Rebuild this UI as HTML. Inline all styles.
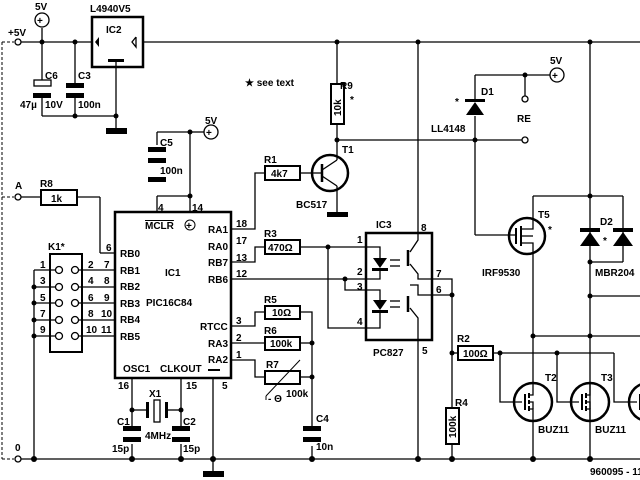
<!DOCTYPE html>
<html><head><meta charset="utf-8"><style>
html,body{margin:0;padding:0;background:#fff;width:640px;height:480px;overflow:hidden}
svg{display:block}
text{font-family:"Liberation Sans",sans-serif;font-weight:bold;font-size:10px;fill:#000}
</style></head><body>
<svg width="640" height="480" viewBox="0 0 640 480" xmlns="http://www.w3.org/2000/svg">
<defs>
<g id="nmos" stroke="#000" fill="none" stroke-width="1.3">
<line x1="-8" y1="-8" x2="-8" y2="8" stroke-width="2"/>
<line x1="-4" y1="-9" x2="-4" y2="-4" stroke-width="2"/>
<line x1="-4" y1="-2" x2="-4" y2="2" stroke-width="2"/>
<line x1="-4" y1="4" x2="-4" y2="9" stroke-width="2"/>
<polyline points="-4,-7 0,-7 0,-19"/>
<polyline points="-4,7 0,7 0,19"/>
<polyline points="-4,0 0,0 0,7"/>
</g>
</defs>
<g stroke="#000" stroke-width="1.3" fill="none">
<line x1="2" y1="42" x2="2" y2="459" stroke-dasharray="3,2" stroke-width="1"/>
<line x1="2" y1="42" x2="14" y2="42" stroke-dasharray="3,2" stroke-width="1"/>
<line x1="2" y1="197" x2="14" y2="197" stroke-dasharray="3,2" stroke-width="1"/>
<line x1="2" y1="459" x2="14" y2="459" stroke-dasharray="3,2" stroke-width="1"/>
<line x1="21" y1="42" x2="92" y2="42"/>
<line x1="143" y1="42" x2="640" y2="42"/>
<rect x="92" y="17" width="51" height="50" stroke-width="2.5"/>
<line x1="42" y1="28" x2="42" y2="80"/>
<circle cx="42" cy="20" r="7"/>
<line x1="75" y1="42" x2="75" y2="85"/>
<line x1="42" y1="97" x2="42" y2="116"/><line x1="75" y1="97" x2="75" y2="116"/>
<line x1="42" y1="116" x2="116" y2="116"/>
<line x1="116" y1="62" x2="116" y2="128"/>
<rect x="34" y="80" width="17" height="6" stroke-width="1.3"/>
<path d="M136,37 L132,42 L136,47 L136,37" stroke-width="1.3"/>
<line x1="337" y1="42" x2="337" y2="84"/>
<rect x="331" y="84" width="13" height="40" stroke-width="2"/>
<line x1="337" y1="124" x2="337" y2="160"/>
<line x1="337" y1="140" x2="522" y2="140"/>
<circle cx="330" cy="173" r="18" stroke-width="2.5"/>
<line x1="337" y1="186" x2="337" y2="212"/>
<line x1="314" y1="173" x2="300" y2="173"/>
<line x1="322" y1="164" x2="322" y2="182" stroke-width="2.5"/>
<polyline points="322,170 337,160"/><polyline points="322,176 337,186"/>
<line x1="314" y1="173" x2="322" y2="173"/>
<line x1="475" y1="75" x2="475" y2="100"/>
<line x1="475" y1="116" x2="475" y2="235"/>
<line x1="475" y1="75" x2="550" y2="75"/>
<line x1="525" y1="75" x2="525" y2="96"/>
<circle cx="557" cy="75" r="7"/>
<line x1="475" y1="235" x2="516" y2="235"/>
<line x1="418" y1="42" x2="418" y2="233"/>
<line x1="590" y1="42" x2="590" y2="459"/>
<line x1="533" y1="196" x2="623" y2="196"/>
<line x1="533" y1="196" x2="533" y2="220"/>
<line x1="623" y1="196" x2="623" y2="262"/>
<line x1="590" y1="262" x2="623" y2="262"/>
<line x1="590" y1="296" x2="640" y2="296"/>
<line x1="533" y1="254" x2="533" y2="383"/>
<line x1="533" y1="421" x2="533" y2="459"/>
<line x1="533" y1="336" x2="640" y2="336"/>
<circle cx="527" cy="236" r="18" stroke-width="2.5"/>
<rect x="115" y="212" width="116" height="166" stroke-width="2.5"/>
<line x1="190" y1="132" x2="204" y2="132"/>
<circle cx="211" cy="132" r="7"/>
<line x1="157" y1="132" x2="190" y2="132"/>
<line x1="157" y1="132" x2="157" y2="145"/>
<line x1="190" y1="132" x2="190" y2="212"/>
<line x1="157" y1="196" x2="190" y2="196"/>
<line x1="157" y1="196" x2="157" y2="212"/>
<circle cx="190" cy="225" r="5" stroke-width="1"/>
<line x1="21" y1="197" x2="41" y2="197"/>
<rect x="41" y="190" width="36" height="15" stroke-width="2"/>
<line x1="77" y1="197" x2="100" y2="197"/>
<line x1="100" y1="197" x2="100" y2="253"/>
<line x1="100" y1="253" x2="115" y2="253"/>
<rect x="50" y="254" width="32" height="98" stroke-width="2"/>
<line x1="34" y1="270" x2="34" y2="459"/>
<line x1="34" y1="270" x2="55" y2="270"/><line x1="79" y1="270" x2="115" y2="270"/>
<line x1="34" y1="287" x2="55" y2="287"/><line x1="79" y1="287" x2="115" y2="287"/>
<line x1="34" y1="303" x2="55" y2="303"/><line x1="79" y1="303" x2="115" y2="303"/>
<line x1="34" y1="320" x2="55" y2="320"/><line x1="79" y1="320" x2="115" y2="320"/>
<line x1="34" y1="336" x2="55" y2="336"/><line x1="79" y1="336" x2="115" y2="336"/>
<g fill="#fff">
<circle cx="59" cy="270" r="3.5"/><circle cx="75" cy="270" r="3.5"/>
<circle cx="59" cy="287" r="3.5"/><circle cx="75" cy="287" r="3.5"/>
<circle cx="59" cy="303" r="3.5"/><circle cx="75" cy="303" r="3.5"/>
<circle cx="59" cy="320" r="3.5"/><circle cx="75" cy="320" r="3.5"/>
<circle cx="59" cy="336" r="3.5"/><circle cx="75" cy="336" r="3.5"/>
</g>
<polyline points="231,229 255,229 255,173 265,173"/>
<rect x="265" y="166" width="35" height="14" stroke-width="2"/>
<polyline points="231,262 255,262 255,247 265,247"/>
<rect x="265" y="240" width="35" height="14" stroke-width="2"/>
<line x1="300" y1="247" x2="366" y2="247"/>
<polyline points="328,247 328,328 366,328"/>
<line x1="231" y1="279" x2="366" y2="279"/>
<polyline points="345,279 345,290 366,290"/>
<polyline points="231,326 255,326 255,312 265,312"/>
<rect x="265" y="306" width="35" height="13" stroke-width="2"/>
<polyline points="300,312 312,312 312,426"/>
<line x1="231" y1="343" x2="265" y2="343"/>
<rect x="265" y="337" width="35" height="13" stroke-width="2"/>
<line x1="300" y1="343" x2="312" y2="343"/>
<polyline points="231,360 255,360 255,377 265,377"/>
<rect x="265" y="371" width="35" height="13" stroke-width="2"/>
<line x1="300" y1="377" x2="312" y2="377"/>
<line x1="266" y1="396" x2="300" y2="360" stroke-width="1"/>
<line x1="266" y1="396" x2="266" y2="400" stroke-width="1"/>
<line x1="312" y1="446" x2="312" y2="459"/>
<line x1="132" y1="378" x2="132" y2="426"/>
<line x1="181" y1="378" x2="181" y2="426"/>
<line x1="132" y1="410" x2="146" y2="410"/><line x1="168" y1="410" x2="181" y2="410"/>
<rect x="154" y="400" width="6" height="22" stroke-width="1.3"/>
<line x1="132" y1="444" x2="132" y2="459"/><line x1="181" y1="444" x2="181" y2="459"/>
<line x1="213" y1="378" x2="213" y2="471"/>
<line x1="21" y1="459" x2="640" y2="459"/>
<rect x="366" y="233" width="66" height="107" stroke-width="2.5"/>
<polyline points="432,279 452,279 452,408"/>
<line x1="432" y1="295" x2="452" y2="295"/>
<line x1="418" y1="340" x2="418" y2="459"/>
<line x1="452" y1="444" x2="452" y2="459"/>
<rect x="446" y="408" width="13" height="36" stroke-width="2"/>
<line x1="452" y1="353" x2="458" y2="353"/>
<rect x="458" y="346" width="35" height="14" stroke-width="2"/>
<line x1="493" y1="353" x2="614" y2="353"/>
<polyline points="500,353 500,402 522,402"/>
<polyline points="557,353 557,402 579,402"/>
<polyline points="614,353 614,402 637,402"/>
<circle cx="533" cy="402" r="19" stroke-width="2.5"/>
<circle cx="590" cy="402" r="19" stroke-width="2.5"/>
<circle cx="648" cy="402" r="19" stroke-width="2.5"/>
<polyline points="366,247 380,247 380,258"/><polyline points="380,270 380,279 366,279"/>
<polyline points="366,290 380,290 380,300"/><polyline points="380,313 380,328 366,328"/>
<polyline points="418,233 418,240 410,252"/><polyline points="410,264 418,274 418,279 432,279"/>
<polyline points="410,285 418,285 418,295 432,295" /><polyline points="410,308 418,318 418,340"/>
<line x1="408" y1="250" x2="408" y2="266" stroke-width="2.5"/>
<line x1="408" y1="296" x2="408" y2="312" stroke-width="2.5"/>
<line x1="390" y1="260" x2="400" y2="260"/><line x1="390" y1="266" x2="400" y2="266"/>
<line x1="390" y1="301" x2="400" y2="301"/><line x1="390" y1="307" x2="400" y2="307"/>
<circle cx="18" cy="42" r="3"/><circle cx="18" cy="197" r="3"/><circle cx="18" cy="459" r="3"/>
<circle cx="525" cy="99" r="3"/><circle cx="525" cy="140" r="3"/>
</g>
<use href="#nmos" x="533" y="402"/>
<use href="#nmos" x="590" y="402"/>
<use href="#nmos" x="648" y="402"/>
<g stroke="#000" fill="none" stroke-width="1.3">
<line x1="516" y1="228" x2="516" y2="244" stroke-width="2"/>
<line x1="521" y1="226" x2="521" y2="246" stroke-width="2"/>
<polyline points="521,229 533,229 533,218"/><polyline points="521,243 533,243 533,254"/>
<line x1="521" y1="236" x2="533" y2="236"/>
</g>
<g fill="#000" stroke="none">
<path d="M99,37 L95,42 L99,47 Z"/>
<rect x="33" y="93" width="18" height="5"/>
<rect x="66" y="83" width="18" height="5"/><rect x="66" y="93" width="18" height="5"/>
<rect x="148" y="147" width="18" height="5"/><rect x="148" y="158" width="18" height="5"/><rect x="148" y="177" width="18" height="5"/>
<rect x="123" y="426" width="18" height="5"/><rect x="123" y="437" width="18" height="5"/>
<rect x="172" y="426" width="18" height="5"/><rect x="172" y="437" width="18" height="5"/>
<rect x="303" y="426" width="18" height="5"/><rect x="303" y="437" width="18" height="5"/>
<rect x="146" y="402" width="3" height="16"/><rect x="165" y="402" width="3" height="16"/>
<rect x="106" y="128" width="21" height="6"/>
<rect x="327" y="212" width="21" height="5"/>
<rect x="203" y="471" width="21" height="6"/>
<rect x="108" y="59" width="16" height="3"/>
<rect x="208" y="369" width="12" height="2"/>
<rect x="465" y="99" width="20" height="3"/><polygon points="466,115 484,115 475,102"/>
<rect x="580" y="228" width="20" height="4"/><polygon points="580,246 600,246 590,232"/>
<rect x="613" y="228" width="20" height="4"/><polygon points="613,246 633,246 623,232"/>
<polygon points="373,258 387,258 380,268"/><rect x="372" y="268" width="16" height="3"/>
<polygon points="373,300 387,300 380,310"/><rect x="372" y="310" width="16" height="3"/>
<circle cx="42" cy="42" r="2.5"/><circle cx="75" cy="42" r="2.5"/><circle cx="75" cy="116" r="2.5"/><circle cx="116" cy="116" r="2.5"/>
<circle cx="337" cy="42" r="2.5"/><circle cx="418" cy="42" r="2.5"/><circle cx="590" cy="42" r="2.5"/>
<circle cx="337" cy="140" r="2.5"/><circle cx="475" cy="140" r="2.5"/><circle cx="525" cy="75" r="2.5"/>
<circle cx="190" cy="132" r="2.5"/><circle cx="190" cy="196" r="2.5"/>
<circle cx="34" cy="287" r="2.5"/><circle cx="34" cy="303" r="2.5"/><circle cx="34" cy="320" r="2.5"/><circle cx="34" cy="336" r="2.5"/>
<circle cx="328" cy="247" r="2.5"/><circle cx="345" cy="279" r="2.5"/><circle cx="452" cy="295" r="2.5"/><circle cx="452" cy="353" r="2.5"/>
<circle cx="500" cy="353" r="2.5"/><circle cx="557" cy="353" r="2.5"/>
<circle cx="312" cy="343" r="2.5"/><circle cx="312" cy="377" r="2.5"/>
<circle cx="132" cy="410" r="2.5"/><circle cx="181" cy="410" r="2.5"/>
<circle cx="590" cy="196" r="2.5"/><circle cx="590" cy="262" r="2.5"/><circle cx="590" cy="296" r="2.5"/>
<circle cx="533" cy="336" r="2.5"/><circle cx="590" cy="336" r="2.5"/>
<circle cx="34" cy="459" r="3"/><circle cx="132" cy="459" r="3"/><circle cx="181" cy="459" r="3"/><circle cx="213" cy="459" r="3"/>
<circle cx="312" cy="459" r="3"/><circle cx="418" cy="459" r="3"/><circle cx="452" cy="459" r="3"/><circle cx="533" cy="459" r="3"/><circle cx="590" cy="459" r="3"/>
</g>
<g font-size="12">
<text x="37" y="24">+</text><text x="206" y="136">+</text><text x="552" y="79">+</text><text x="186" y="229" font-size="9">+</text>
</g>
<text x="35" y="10" font-size="11">5V</text>
<text x="8" y="36">+5V</text>
<text x="90" y="12" font-size="11">L4940V5</text>
<text x="106" y="33" font-size="11">IC2</text>
<text x="45" y="79">C6</text><text x="78" y="79">C3</text>
<text x="20" y="108">47µ</text><text x="45" y="108">10V</text><text x="78" y="108">100n</text>
<text x="245" y="86" font-size="9">★ see text</text>
<text x="205" y="124" font-size="11">5V</text>
<text x="160" y="146">C5</text><text x="160" y="174">100n</text>
<text x="15" y="189">A</text><text x="40" y="187">R8</text><text x="51" y="202">1k</text>
<text x="158" y="211">4</text><text x="192" y="211">14</text>
<text x="145" y="229" text-decoration="overline">MCLR</text>
<text x="208" y="233">RA1</text>
<text x="236" y="227">18</text><text x="236" y="244">17</text><text x="236" y="261">13</text><text x="236" y="277">12</text>
<text x="236" y="324">3</text><text x="236" y="341">2</text><text x="236" y="358">1</text>
<text x="208" y="250">RA0</text><text x="208" y="266">RB7</text><text x="208" y="283">RB6</text>
<text x="200" y="330">RTCC</text><text x="208" y="347">RA3</text><text x="208" y="363">RA2</text>
<text x="120" y="257">RB0</text><text x="120" y="274">RB1</text><text x="120" y="290">RB2</text><text x="120" y="307">RB3</text><text x="120" y="323">RB4</text><text x="120" y="340">RB5</text>
<text x="165" y="276" font-size="11">IC1</text>
<text x="146" y="306" font-size="11">PIC16C84</text>
<text x="123" y="372">OSC1</text><text x="160" y="372">CLKOUT</text>
<text x="118" y="389">16</text><text x="186" y="389">15</text><text x="222" y="389">5</text>
<text x="149" y="397">X1</text><text x="145" y="439">4MHz</text>
<text x="117" y="425">C1</text><text x="183" y="425">C2</text><text x="112" y="452">15p</text><text x="183" y="452">15p</text>
<text x="48" y="250" font-size="11">K1*</text>
<text x="106" y="251">6</text>
<text x="40" y="268">1</text><text x="40" y="284">3</text><text x="40" y="301">5</text><text x="40" y="317">7</text><text x="40" y="333">9</text>
<text x="88" y="268">2</text><text x="88" y="284">4</text><text x="88" y="301">6</text><text x="88" y="317">8</text><text x="86" y="333">10</text>
<text x="104" y="268">7</text><text x="104" y="284">8</text><text x="104" y="301">9</text><text x="101" y="317">10</text><text x="101" y="333">11</text>
<text x="15" y="451">0</text>
<text x="264" y="163">R1</text><text x="271" y="177">4k7</text>
<text x="264" y="237">R3</text><text x="268" y="251">470Ω</text>
<text x="264" y="303">R5</text><text x="272" y="316">10Ω</text>
<text x="264" y="334">R6</text><text x="270" y="347">100k</text>
<text x="266" y="368">R7</text><text x="286" y="397">100k</text><text x="268" y="402">- Θ</text>
<text x="316" y="422">C4</text><text x="316" y="450">10n</text>
<text x="342" y="153">T1</text><text x="296" y="208" font-size="11">BC517</text>
<text x="340" y="89">R9</text><text x="350" y="103">*</text>
<text transform="translate(341,116) rotate(-90)" font-size="9">10k</text>
<text x="481" y="95">D1</text><text x="455" y="105">*</text>
<text x="431" y="132" font-size="11">LL4148</text>
<text x="550" y="64" font-size="11">5V</text><text x="517" y="122">RE</text>
<text x="376" y="228" font-size="11">IC3</text><text x="421" y="231">8</text>
<text x="357" y="243">1</text><text x="357" y="275">2</text><text x="357" y="290">3</text><text x="357" y="325">4</text>
<text x="436" y="277">7</text><text x="436" y="293">6</text><text x="422" y="354">5</text>
<text x="373" y="356" font-size="11">PC827</text>
<text x="457" y="342">R2</text><text x="463" y="357">100Ω</text>
<text x="455" y="406">R4</text>
<text transform="translate(456,438) rotate(-90)" font-size="9">100k</text>
<text x="538" y="218" font-size="9">T5</text><text x="548" y="233" font-size="12">*</text>
<text x="482" y="276" font-size="11">IRF9530</text>
<text x="600" y="225" font-size="9">D2</text><text x="603" y="244" font-size="12">*</text>
<text x="595" y="276" font-size="11">MBR204</text>
<text x="545" y="381" font-size="9">T2</text><text x="601" y="381" font-size="9">T3</text>
<text x="538" y="433" font-size="11">BUZ11</text><text x="595" y="433" font-size="11">BUZ11</text>
<text x="590" y="475" font-size="8">960095 - 11</text>
</svg>
</body></html>
